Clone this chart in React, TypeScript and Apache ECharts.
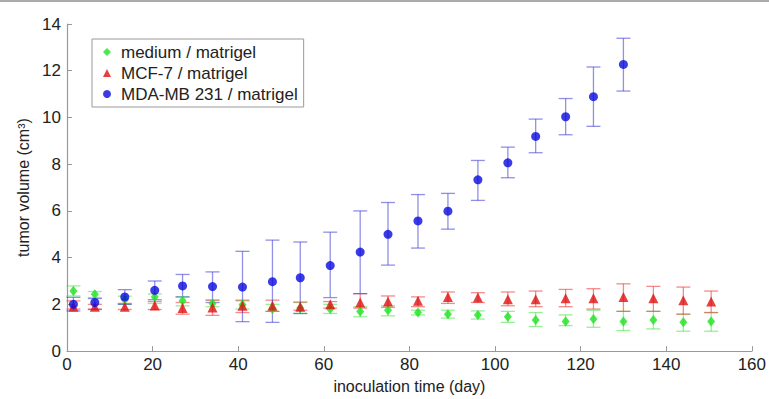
import React, { useEffect, useRef } from "react";
import * as echarts from "echarts";

const xTicks = [0, 20, 40, 60, 80, 100, 120, 140, 160];
const yTicks = [0, 2, 4, 6, 8, 10, 12, 14];

const days = [1.5, 6.5, 13.5, 20.5, 27, 34, 41, 48, 54.5, 61.5, 68.5, 75, 82, 89, 96, 103, 109.5, 116.5, 123, 130, 137, 144, 150.5];

const mdaMean = [2.0, 2.08, 2.32, 2.6, 2.79, 2.76, 2.74, 2.97, 3.14, 3.66, 4.24, 5.0, 5.57, 5.99, 7.33, 8.06, 9.19, 10.03, 10.89, 12.27];
const mdaLow = [1.72, 1.78, 2.0, 2.2, 2.32, 2.08, 1.26, 1.23, 1.61, 2.29, 2.46, 3.68, 4.41, 5.22, 6.45, 7.42, 8.49, 9.26, 9.62, 11.13];
const mdaHigh = [2.3, 2.25, 2.63, 3.0, 3.28, 3.39, 4.27, 4.75, 4.67, 5.09, 6.0, 6.36, 6.7, 6.75, 8.16, 8.73, 9.93, 10.81, 12.16, 13.39];

const mcfMean = [1.9, 1.9, 1.9, 1.95, 1.84, 1.87, 1.94, 1.94, 1.9, 2.0, 2.08, 2.12, 2.15, 2.32, 2.29, 2.22, 2.22, 2.26, 2.26, 2.32, 2.26, 2.18, 2.12];
const mcfLow = [1.8, 1.8, 1.78, 1.78, 1.58, 1.53, 1.65, 1.7, 1.75, 1.84, 1.84, 1.87, 1.9, 2.04, 2.08, 1.94, 1.9, 1.9, 1.8, 1.7, 1.7, 1.58, 1.65];
const mcfHigh = [2.15, 2.0, 2.04, 2.12, 2.08, 2.18, 2.18, 2.18, 2.1, 2.12, 2.46, 2.36, 2.32, 2.53, 2.5, 2.53, 2.57, 2.64, 2.67, 2.88, 2.77, 2.74, 2.57];

const medMean = [2.57, 2.43, 2.2, 2.32, 2.15, 2.04, 1.98, 1.8, 1.84, 1.8, 1.7, 1.75, 1.65, 1.58, 1.55, 1.47, 1.33, 1.27, 1.37, 1.27, 1.33, 1.23, 1.27];
const medLow = [2.36, 2.29, 2.0, 2.04, 1.94, 1.9, 1.8, 1.7, 1.61, 1.61, 1.47, 1.51, 1.55, 1.41, 1.37, 1.23, 1.05, 1.09, 1.02, 0.88, 0.95, 0.85, 0.85];
const medHigh = [2.79, 2.55, 2.35, 2.45, 2.32, 2.18, 2.15, 2.0, 2.08, 2.0, 1.9, 1.94, 1.75, 1.75, 1.72, 1.7, 1.65, 1.55, 1.75, 1.7, 1.7, 1.58, 1.65];

const seriesNames = ["medium / matrigel", "MCF-7 / matrigel", "MDA-MB 231 / matrigel"];

const FONT = "'Liberation Sans', Arial, sans-serif";

function errSeries(mean: number[], lo: number[], hi: number[], color: string) {
  return {
    type: "custom",
    silent: true,
    z: 2,
    data: mean.map((_, i) => [days[i], lo[i], hi[i]]),
    encode: { x: 0, y: [1, 2] },
    renderItem: (_params: any, api: any) => {
      const x = api.value(0);
      const pLo = api.coord([x, api.value(1)]);
      const pHi = api.coord([x, api.value(2)]);
      const w = 7;
      const style = { stroke: color, lineWidth: 1.3, fill: "none" };
      return {
        type: "group",
        children: [
          { type: "line", shape: { x1: pLo[0], y1: pLo[1], x2: pHi[0], y2: pHi[1] }, style },
          { type: "line", shape: { x1: pLo[0] - w, y1: pLo[1], x2: pLo[0] + w, y2: pLo[1] }, style },
          { type: "line", shape: { x1: pHi[0] - w, y1: pHi[1], x2: pHi[0] + w, y2: pHi[1] }, style },
        ],
      };
    },
  };
}

export default function App() {
  const ref = useRef<HTMLDivElement>(null);
  useEffect(() => {
    if (!ref.current) return;
    const chart = echarts.init(ref.current, undefined, { renderer: "svg" });
    const axisCommon = {
      axisLine: { show: true, lineStyle: { color: "#999", width: 1.2 } },
      axisTick: { show: true, inside: true, length: 5, lineStyle: { color: "#999" } },
      splitLine: { show: false },
      nameTextStyle: { fontSize: 16, color: "#222", fontFamily: FONT },
    };
    chart.setOption({
      animation: false,
      backgroundColor: "#fff",
      graphic: [
        { type: "rect", left: 0, top: 0, shape: { width: 769, height: 2 }, style: { fill: "#aaa" } },
      ],
      grid: { left: 67, right: 2.5, top: 24, bottom: 45, containLabel: false },
      legend: {
        data: seriesNames,
        orient: "vertical",
        left: 92,
        top: 39,
        padding: [4, 6, 4, 11],
        itemGap: 3,
        itemWidth: 8,
        itemHeight: 8,
        borderColor: "#999",
        borderWidth: 1,
        backgroundColor: "#fff",
        textStyle: { fontSize: 17, color: "#222", fontFamily: FONT, lineHeight: 18, padding: [0, 0, 0, 5] },
      },
      xAxis: {
        type: "value",
        min: xTicks[0],
        max: xTicks[xTicks.length - 1],
        interval: xTicks[1] - xTicks[0],
        name: "inoculation time (day)",
        nameLocation: "middle",
        nameGap: 23,
        axisLabel: { fontSize: 17, color: "#222", fontFamily: FONT, margin: 5 },
        ...axisCommon,
      },
      yAxis: {
        type: "value",
        min: yTicks[0],
        max: yTicks[yTicks.length - 1],
        interval: yTicks[1] - yTicks[0],
        name: "tumor volume (cm³)",
        nameLocation: "middle",
        nameGap: 26,
        axisLabel: { fontSize: 17, color: "#222", fontFamily: FONT, margin: 6 },
        ...axisCommon,
      },
      series: [
        errSeries(medMean, medLow, medHigh, "rgba(60,230,60,0.55)"),
        errSeries(mcfMean, mcfLow, mcfHigh, "rgba(240,60,60,0.6)"),
        errSeries(mdaMean, mdaLow, mdaHigh, "rgba(70,70,215,0.6)"),
        {
          type: "scatter",
          name: seriesNames[0],
          symbol: "diamond",
          symbolSize: [8, 10],
          symbolKeepAspect: true,
          z: 3,
          itemStyle: { color: "#1ee21e" },
          data: medMean.map((v, i) => [days[i], v]),
        },
        {
          type: "scatter",
          name: seriesNames[1],
          symbol: "triangle",
          symbolSize: 10,
          symbolKeepAspect: true,
          z: 3,
          itemStyle: { color: "#e01010" },
          data: mcfMean.map((v, i) => [days[i], v]),
        },
        {
          type: "scatter",
          name: seriesNames[2],
          symbol: "circle",
          symbolSize: 9,
          z: 4,
          itemStyle: { color: "#0a0ae0" },
          data: mdaMean.map((v, i) => [days[i], v]),
        },
      ],
    });
    return () => chart.dispose();
  }, []);
  return (
    <div
      ref={ref}
      style={{ position: "absolute", left: 0, top: 0, width: 769, height: 399 }}
    />
  );
}
